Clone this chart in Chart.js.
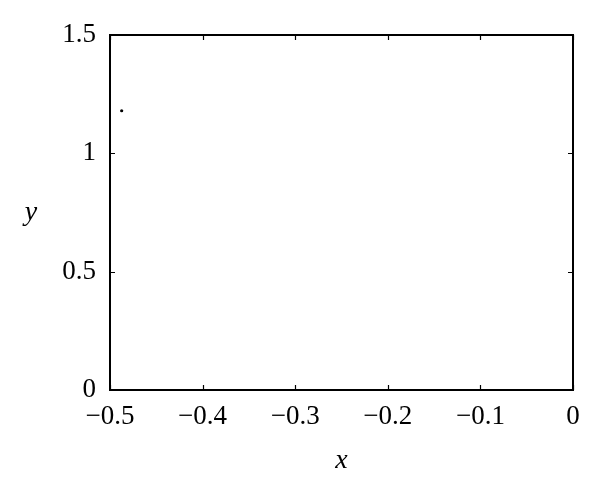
<!DOCTYPE html>
<html><head><meta charset="utf-8">
<script src="https://cdn.jsdelivr.net/npm/chart.js@4"></script>
<style>html,body{margin:0;padding:0;background:#fff}#wrap{width:600px;height:497px}</style>
</head><body><div id="wrap"><canvas id="c" width="600" height="497"></canvas></div>
<script>
const xValues = [-0.4874];
const yValues = [1.18];
const xTicks = [-0.5, -0.4, -0.3, -0.2, -0.1, 0];
const yTicks = [0, 0.5, 1, 1.5];
const xTitle = 'x';
const yTitle = 'y';

const FONT = "'Liberation Serif', serif";
const fmt = v => { const r = Math.round(v*10)/10; if (r === 0) return '0'; return (r < 0 ? '\u2212' : '') + String(Math.abs(r)); };

const framePlugin = {
  id: 'frame',
  afterDraw(chart) {
    const {ctx, chartArea: a, scales: {x, y}} = chart;
    ctx.save();
    ctx.strokeStyle = '#000';
    ctx.lineWidth = 2;
    ctx.strokeRect(a.left, a.top, a.right - a.left, a.bottom - a.top);
    ctx.lineWidth = 1.2;
    const L = 5;
    ctx.beginPath();
    xTicks.forEach(v => { const px = Math.round(x.getPixelForValue(v)) + 0.5;
      ctx.moveTo(px, a.bottom); ctx.lineTo(px, a.bottom - L);
      ctx.moveTo(px, a.top); ctx.lineTo(px, a.top + L); });
    yTicks.forEach(v => { const py = Math.round(y.getPixelForValue(v)) + 0.5;
      ctx.moveTo(a.left, py); ctx.lineTo(a.left + L, py);
      ctx.moveTo(a.right, py); ctx.lineTo(a.right - L, py); });
    ctx.stroke();
    ctx.fillStyle = '#000';
    ctx.font = "italic 28px " + FONT;
    ctx.textAlign = 'center'; ctx.textBaseline = 'middle';
    ctx.fillText(yTitle, 31, 213);
    ctx.fillText(xTitle, (a.left + a.right) / 2, 461);
    ctx.restore();
  }
};

new Chart(document.getElementById('c'), {
  type: 'scatter',
  data: { datasets: [{ data: xValues.map((v, i) => ({x: v, y: yValues[i]})),
    backgroundColor: '#000', borderColor: '#000', pointRadius: 1.6, pointBorderWidth: 0 }] },
  options: {
    responsive: false, animation: false, events: [],
    layout: { padding: { top: 35, right: 27, left: 0, bottom: 0 } },
    plugins: { legend: { display: false }, tooltip: { enabled: false } },
    scales: {
      x: { type: 'linear', min: -0.5, max: 0,
        afterBuildTicks: s => { s.ticks = xTicks.map(v => ({value: v})); },
        afterFit: s => { s.height = 107; },
        grid: { display: false, drawTicks: false },
        border: { display: false },
        ticks: { color: '#000', font: { family: FONT, size: 27 }, padding: 11, maxRotation: 0, callback: v => fmt(v) } },
      y: { type: 'linear', min: 0, max: 1.5,
        afterBuildTicks: s => { s.ticks = yTicks.map(v => ({value: v})); },
        afterFit: s => { s.width = 110; },
        grid: { display: false, drawTicks: false },
        border: { display: false },
        ticks: { color: '#000', font: { family: FONT, size: 27 }, padding: 14, callback: v => fmt(v) } }
    }
  },
  plugins: [framePlugin]
});
</script></body></html>
